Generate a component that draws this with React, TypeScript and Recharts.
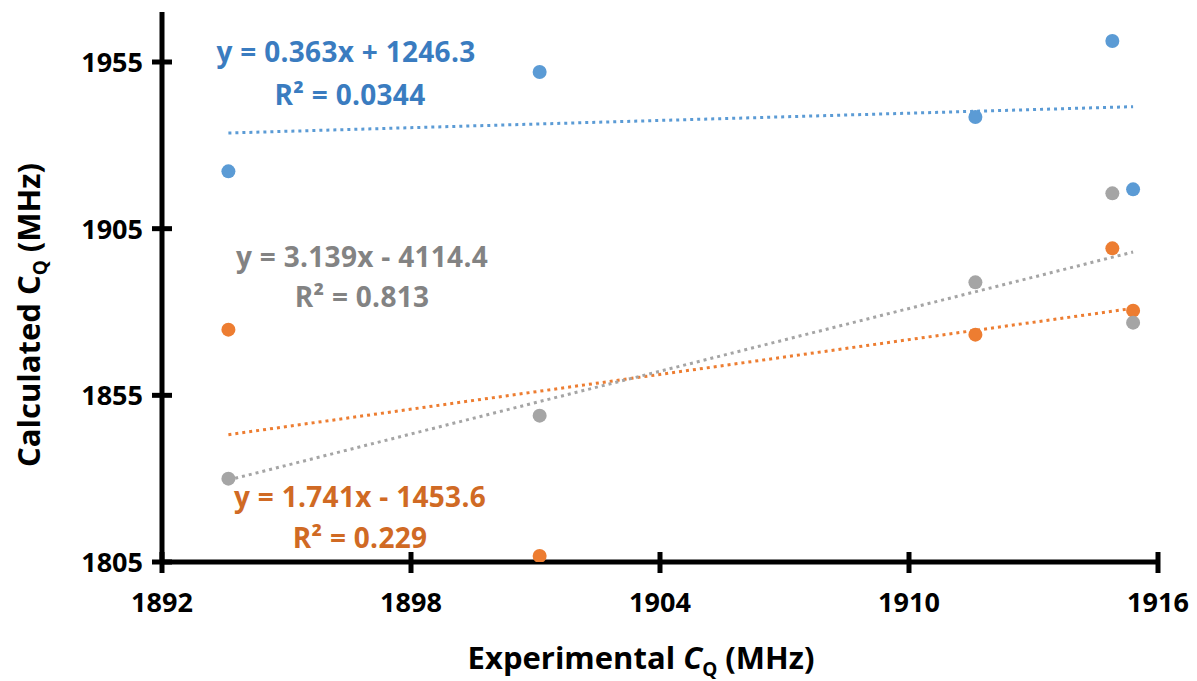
import React from "react";
import { ScatterChart, Scatter, XAxis, YAxis, ReferenceLine } from "recharts";

const xValues = [1893.6, 1901.1, 1911.6, 1914.9, 1915.4];
const blueValues = [1922.2, 1952.0, 1938.5, 1961.3, 1916.8];
const orangeValues = [1874.7, 1806.8, 1873.2, 1899.1, 1880.4];
const grayValues = [1830.0, 1848.9, 1888.9, 1915.6, 1876.8];

const trendX = [1893.6, 1915.4];
const blueTrend = [1933.7, 1941.6];
const orangeTrend = [1843.2, 1881.1];
const grayTrend = [1829.6, 1898.0];

const xTicks = [1892, 1898, 1904, 1910, 1916];
const yTicks = [1805, 1855, 1905, 1955];

const BLUE = "#5B9BD5";
const ORANGE = "#ED7D31";
const GRAY = "#A5A5A5";

const FONT = "'Open Sans', sans-serif";

const toPoints = (ys: number[]) => xValues.map((x, i) => ({ x, y: ys[i] }));
const toSegment = (ys: number[]) => [
  { x: trendX[0], y: ys[0] },
  { x: trendX[1], y: ys[1] },
];

const dot = (color: string) => (props: any) => (
  <circle cx={props.cx} cy={props.cy} r={7} fill={color} />
);

const YTick = (props: any) => {
  const { x, y, payload } = props;
  return (
    <g>
      <line x1={x - 10} x2={x + 10} y1={y} y2={y} stroke="#000" strokeWidth={5} />
      <text x={x - 19} y={y} dy={10} textAnchor="end" fontFamily={FONT} fontWeight={700} fontSize={27} fill="#000">
        {payload.value}
      </text>
    </g>
  );
};

const XTick = (props: any) => {
  const { x, y, payload } = props;
  return (
    <g>
      <line x1={x} x2={x} y1={y - 10} y2={y + 11} stroke="#000" strokeWidth={5} />
      <text x={x} y={y + 50} textAnchor="middle" fontFamily={FONT} fontWeight={700} fontSize={27} fill="#000">
        {payload.value}
      </text>
    </g>
  );
};

const labelStyle = (color: string, left: number, top: number): React.CSSProperties => ({
  position: "absolute",
  left,
  top,
  width: 300,
  textAlign: "center",
  color,
  fontFamily: FONT,
  fontWeight: 700,
  fontSize: 28,
  letterSpacing: 0.3,
  lineHeight: "40px",
  whiteSpace: "nowrap",
});

export default function App() {
  return (
    <div style={{ position: "absolute", left: 0, top: 0, width: 1197, height: 681, background: "#fff" }}>
      <ScatterChart width={1197} height={681} margin={{ top: 12, right: 39, bottom: 59, left: 0 }}>
        <XAxis
          type="number"
          dataKey="x"
          domain={[1892, 1916]}
          ticks={xTicks}
          allowDataOverflow
          height={60}
          axisLine={{ stroke: "#000", strokeWidth: 5 }}
          tickLine={false}
          tickSize={0}
          tickMargin={0}
          tick={<XTick />}
          interval={0}
        />
        <YAxis
          type="number"
          dataKey="y"
          domain={[1805, 1970]}
          ticks={yTicks}
          allowDataOverflow
          width={162}
          axisLine={{ stroke: "#000", strokeWidth: 5 }}
          tickLine={false}
          tickSize={0}
          tickMargin={0}
          tick={<YTick />}
          interval={0}
        />
        <ReferenceLine segment={toSegment(blueTrend)} stroke={BLUE} strokeWidth={3} strokeDasharray="3 4" />
        <ReferenceLine segment={toSegment(orangeTrend)} stroke={ORANGE} strokeWidth={3} strokeDasharray="3 4" />
        <ReferenceLine segment={toSegment(grayTrend)} stroke={GRAY} strokeWidth={3} strokeDasharray="3 4" />
        <Scatter data={toPoints(blueValues)} fill={BLUE} shape={dot(BLUE)} isAnimationActive={false} />
        <Scatter data={toPoints(orangeValues)} fill={ORANGE} shape={dot(ORANGE)} isAnimationActive={false} />
        <Scatter data={toPoints(grayValues)} fill={GRAY} shape={dot(GRAY)} isAnimationActive={false} />
      </ScatterChart>

      <div style={labelStyle("#3A7CC0", 196, 31)}>y = 0.363x + 1246.3</div>
      <div style={labelStyle("#3A7CC0", 200, 74)}>R² = 0.0344</div>
      <div style={labelStyle("#838383", 212, 236)}>y = 3.139x - 4114.4</div>
      <div style={labelStyle("#838383", 212, 276)}>R² = 0.813</div>
      <div style={labelStyle("#D06A24", 210, 476)}>y = 1.741x - 1453.6</div>
      <div style={labelStyle("#D06A24", 210, 517)}>R² = 0.229</div>

      <div
        style={{
          position: "absolute",
          left: 28,
          top: 315,
          transform: "translate(-50%, -50%) rotate(-90deg)",
          fontFamily: FONT,
          fontWeight: 700,
          fontSize: 31,
          whiteSpace: "nowrap",
          color: "#000",
          lineHeight: "42px",
        }}
      >
        Calculated C
        <sub style={{ fontSize: 19, lineHeight: 0 }}>Q</sub> (MHz)
      </div>
      <div
        style={{
          position: "absolute",
          left: 641,
          top: 639,
          transform: "translateX(-50%)",
          fontFamily: FONT,
          fontWeight: 700,
          fontSize: 31,
          whiteSpace: "nowrap",
          color: "#000",
          lineHeight: "36px",
        }}
      >
        Experimental <i>C</i>
        <sub style={{ fontSize: 19, lineHeight: 0 }}>Q</sub> (MHz)
      </div>
    </div>
  );
}
